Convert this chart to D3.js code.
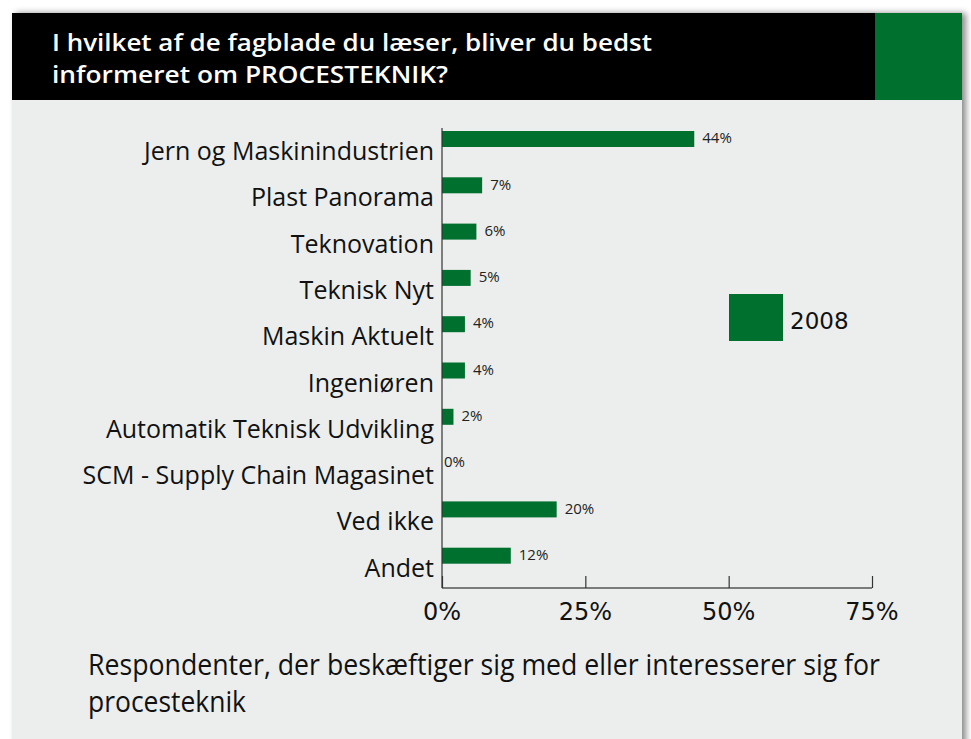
<!DOCTYPE html>
<html>
<head>
<meta charset="utf-8">
<script src="https://cdn.jsdelivr.net/npm/d3@7.9.0/dist/d3.min.js"></script>
<style>
  html, body { margin: 0; padding: 0; background: #fff; }
  svg { display: block; }
</style>
</head>
<body>
<div id="chart"></div>
<script>
// Data
const categories = [
  "Jern og Maskinindustrien",
  "Plast Panorama",
  "Teknovation",
  "Teknisk Nyt",
  "Maskin Aktuelt",
  "Ingeniøren",
  "Automatik Teknisk Udvikling",
  "SCM - Supply Chain Magasinet",
  "Ved ikke",
  "Andet"
];
const values2008 = [44, 7, 6, 5, 4, 4, 2, 0, 20, 12];
const xTicks = [0, 25, 50, 75];
const seriesLabel = "2008";
const titleLines = [
  "I hvilket af de fagblade du læser, bliver du bedst",
  "informeret om PROCESTEKNIK?"
];
const footerLines = [
  "Respondenter, der beskæftiger sig med eller interesserer sig for",
  "procesteknik"
];

const W = 971, H = 739;
const green = "#00702f";

const svg = d3.select("#chart").append("svg")
  .attr("width", W)
  .attr("height", H);

// shadow for the panel
const defs = svg.append("defs");
const f = defs.append("filter").attr("id", "shadow")
  .attr("x", "-5%").attr("y", "-5%").attr("width", "115%").attr("height", "115%");
f.append("feDropShadow")
  .attr("dx", 4).attr("dy", 0).attr("stdDeviation", 3)
  .attr("flood-color", "#000").attr("flood-opacity", 0.45);

// panel
svg.append("rect")
  .attr("x", 12).attr("y", 13)
  .attr("width", 950).attr("height", H)
  .attr("fill", "#eceeed")
  .attr("filter", "url(#shadow)");

// header
svg.append("rect")
  .attr("x", 12).attr("y", 13).attr("width", 863).attr("height", 87)
  .attr("fill", "#000");
svg.append("rect")
  .attr("x", 875).attr("y", 13).attr("width", 87).attr("height", 87)
  .attr("fill", green);

svg.append("g")
  .selectAll("text")
  .data(titleLines)
  .join("text")
  .attr("x", 52)
  .attr("y", (d, i) => 51 + i * 32)
  .attr("fill", "#fff")
  .attr("font-family", "'Open Sans', sans-serif")
  .attr("font-weight", 600)
  .attr("font-size", 23)
  .text(d => d)
  .each(function(d, i) {
    const target = i === 0 ? 600 : 396;
    d3.select(this).attr("textLength", target).attr("lengthAdjust", "spacingAndGlyphs");
  });

// scales
const x = d3.scaleLinear().domain([0, 75]).range([442, 872]);
const y = d3.scaleBand().domain(categories).range([122, 585]).paddingInner(0);
const barH = 16, barOff = 9;

// bars
svg.append("g")
  .selectAll("rect")
  .data(categories)
  .join("rect")
  .attr("x", x(0))
  .attr("y", d => y(d) + barOff)
  .attr("width", (d, i) => x(values2008[i]) - x(0))
  .attr("height", barH)
  .attr("fill", green);

// value labels
svg.append("g")
  .selectAll("text")
  .data(categories)
  .join("text")
  .attr("x", (d, i) => x(values2008[i]) + (values2008[i] === 0 ? 2 : 8))
  .attr("y", d => y(d) + barOff + barH / 2 - 1)
  .attr("dy", "0.35em")
  .attr("font-family", "'Open Sans', sans-serif")
  .attr("font-size", 15)
  .attr("fill", "#222")
  .text((d, i) => values2008[i] + "%");

// category labels
svg.append("g")
  .selectAll("text")
  .data(categories)
  .join("text")
  .attr("x", 434)
  .attr("y", d => y(d) + barOff + barH / 2 + 21)
  .attr("text-anchor", "end")
  .attr("font-family", "'Open Sans', sans-serif")
  .attr("font-size", 25)
  .attr("fill", "#111")
  .text(d => d);

// y axis line
svg.append("line")
  .attr("x1", x(0)).attr("x2", x(0))
  .attr("y1", 128).attr("y2", 588)
  .attr("stroke", "#333").attr("stroke-width", 1.2);

// x axis
const xAxis = svg.append("g")
  .attr("transform", "translate(0,588)")
  .call(d3.axisTop(x).tickValues(xTicks).tickSize(12).tickFormat(() => ""));
xAxis.select(".domain").attr("stroke", "#555").attr("stroke-width", 1.5).attr("d", `M${x(0)},0H${x(75)}`);
xAxis.selectAll(".tick line").attr("stroke", "#333").attr("stroke-width", 1.2);

svg.append("g")
  .selectAll("text")
  .data(xTicks)
  .join("text")
  .attr("x", d => x(d))
  .attr("y", 620)
  .attr("text-anchor", "middle")
  .attr("font-family", "'DejaVu Sans', sans-serif")
  .attr("font-size", 24)
  .attr("fill", "#111")
  .text(d => d + "%");

// legend
svg.append("rect")
  .attr("x", 729).attr("y", 294).attr("width", 54).attr("height", 47)
  .attr("fill", green);
svg.append("text")
  .attr("x", 790).attr("y", 329)
  .attr("font-family", "'DejaVu Sans', sans-serif")
  .attr("font-size", 23)
  .attr("fill", "#111")
  .text(seriesLabel);

// footer
svg.append("g")
  .selectAll("text")
  .data(footerLines)
  .join("text")
  .attr("x", 88)
  .attr("y", (d, i) => 675 + i * 37)
  .attr("font-family", "'Open Sans', sans-serif")
  .attr("font-size", 29)
  .attr("fill", "#111")
  .text(d => d)
  .each(function(d, i) {
    const target = i === 0 ? 792 : 158;
    d3.select(this).attr("textLength", target).attr("lengthAdjust", "spacingAndGlyphs");
  });
</script>
</body>
</html>
